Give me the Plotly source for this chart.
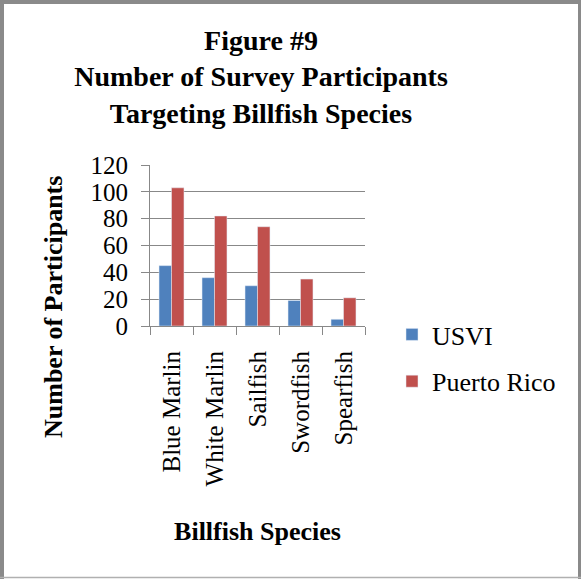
import plotly.graph_objects as go

species = ["Blue Marlin", "White Marlin", "Sailfish", "Swordfish", "Spearfish"]
usvi = [45, 36, 30, 19, 5]
puerto_rico = [103, 82, 74, 35, 21]
y_ticks = [0, 20, 40, 60, 80, 100, 120]

W, H = 581, 579
L, R, T, B = 150, 216, 165, 253
PW, PH = W - L - R, H - T - B

def px(x):
    return (x - L) / PW

def py(y):
    return (H - B - y) / PH

FONT = "Liberation Serif, Times New Roman, serif"

fig = go.Figure()
fig.add_trace(go.Bar(name="USVI", x=species, y=usvi, marker_color="#4F81BD",
                     legendgroup="a"))
fig.add_trace(go.Bar(name="Puerto Rico", x=species, y=puerto_rico, marker_color="#C0504D",
                     legendgroup="b"))

shapes = [
    dict(type="line", xref="paper", yref="paper", x0=px(2), x1=px(2), y0=py(0), y1=py(H),
         line=dict(color="#8a8a8a", width=4)),
    dict(type="line", xref="paper", yref="paper", x0=px(0), x1=px(W), y0=py(2), y1=py(2),
         line=dict(color="#8a8a8a", width=4)),
    dict(type="line", xref="paper", yref="paper", x0=px(W - 1.5), x1=px(W - 1.5), y0=py(0), y1=py(H),
         line=dict(color="#8a8a8a", width=3)),
    dict(type="line", xref="paper", yref="paper", x0=px(0), x1=px(W), y0=py(H - 1.5), y1=py(H - 1.5),
         line=dict(color="#b0b0b0", width=1.5)),
]

annotations = [
    dict(text="<b>Number of Participants</b>", textangle=-90,
         xref="paper", yref="paper", x=px(53), y=py(307),
         xanchor="center", yanchor="middle", showarrow=False,
         font=dict(size=26, family=FONT, color="black")),
]

fig.update_layout(
    width=W, height=H,
    margin=dict(l=L, r=R, t=T, b=B),
    paper_bgcolor="white", plot_bgcolor="white",
    barmode="group", bargap=0.42, bargroupgap=0,
    font=dict(family=FONT, color="black", size=25),
    title=dict(text="<b>Figure #9<br>Number of Survey Participants<br>Targeting Billfish Species</b>",
               x=261 / W, xanchor="center", xref="container",
               y=1 - 50 / H, yanchor="top", yref="container",
               font=dict(family=FONT, size=28, color="black")),
    xaxis=dict(
        showline=True, linecolor="#888888", linewidth=1,
        ticks="outside", ticklen=8, tickcolor="#888888", tickson="boundaries",
        tickangle=-90, tickfont=dict(size=25, family=FONT),
        ticklabelstandoff=14,
        title=dict(text="<b>Billfish Species</b>", font=dict(size=26, family=FONT), standoff=36),
    ),
    yaxis=dict(
        range=[0, 120], tickvals=y_ticks,
        showline=True, linecolor="#888888", linewidth=1,
        showgrid=True, gridcolor="#888888", gridwidth=1,
        ticks="outside", ticklen=8, tickcolor="#888888",
        tickfont=dict(size=25, family=FONT), ticklabelstandoff=8,
        zeroline=False,
    ),
    legend=dict(x=px(392), xanchor="left", y=py(311), yanchor="top",
                font=dict(size=26, family=FONT), tracegroupgap=10,
                bgcolor="rgba(0,0,0,0)"),
    shapes=shapes,
    annotations=annotations,
)

fig.write_html("out.html", config={"displayModeBar": False},
               post_script="document.body.style.margin='0';")
